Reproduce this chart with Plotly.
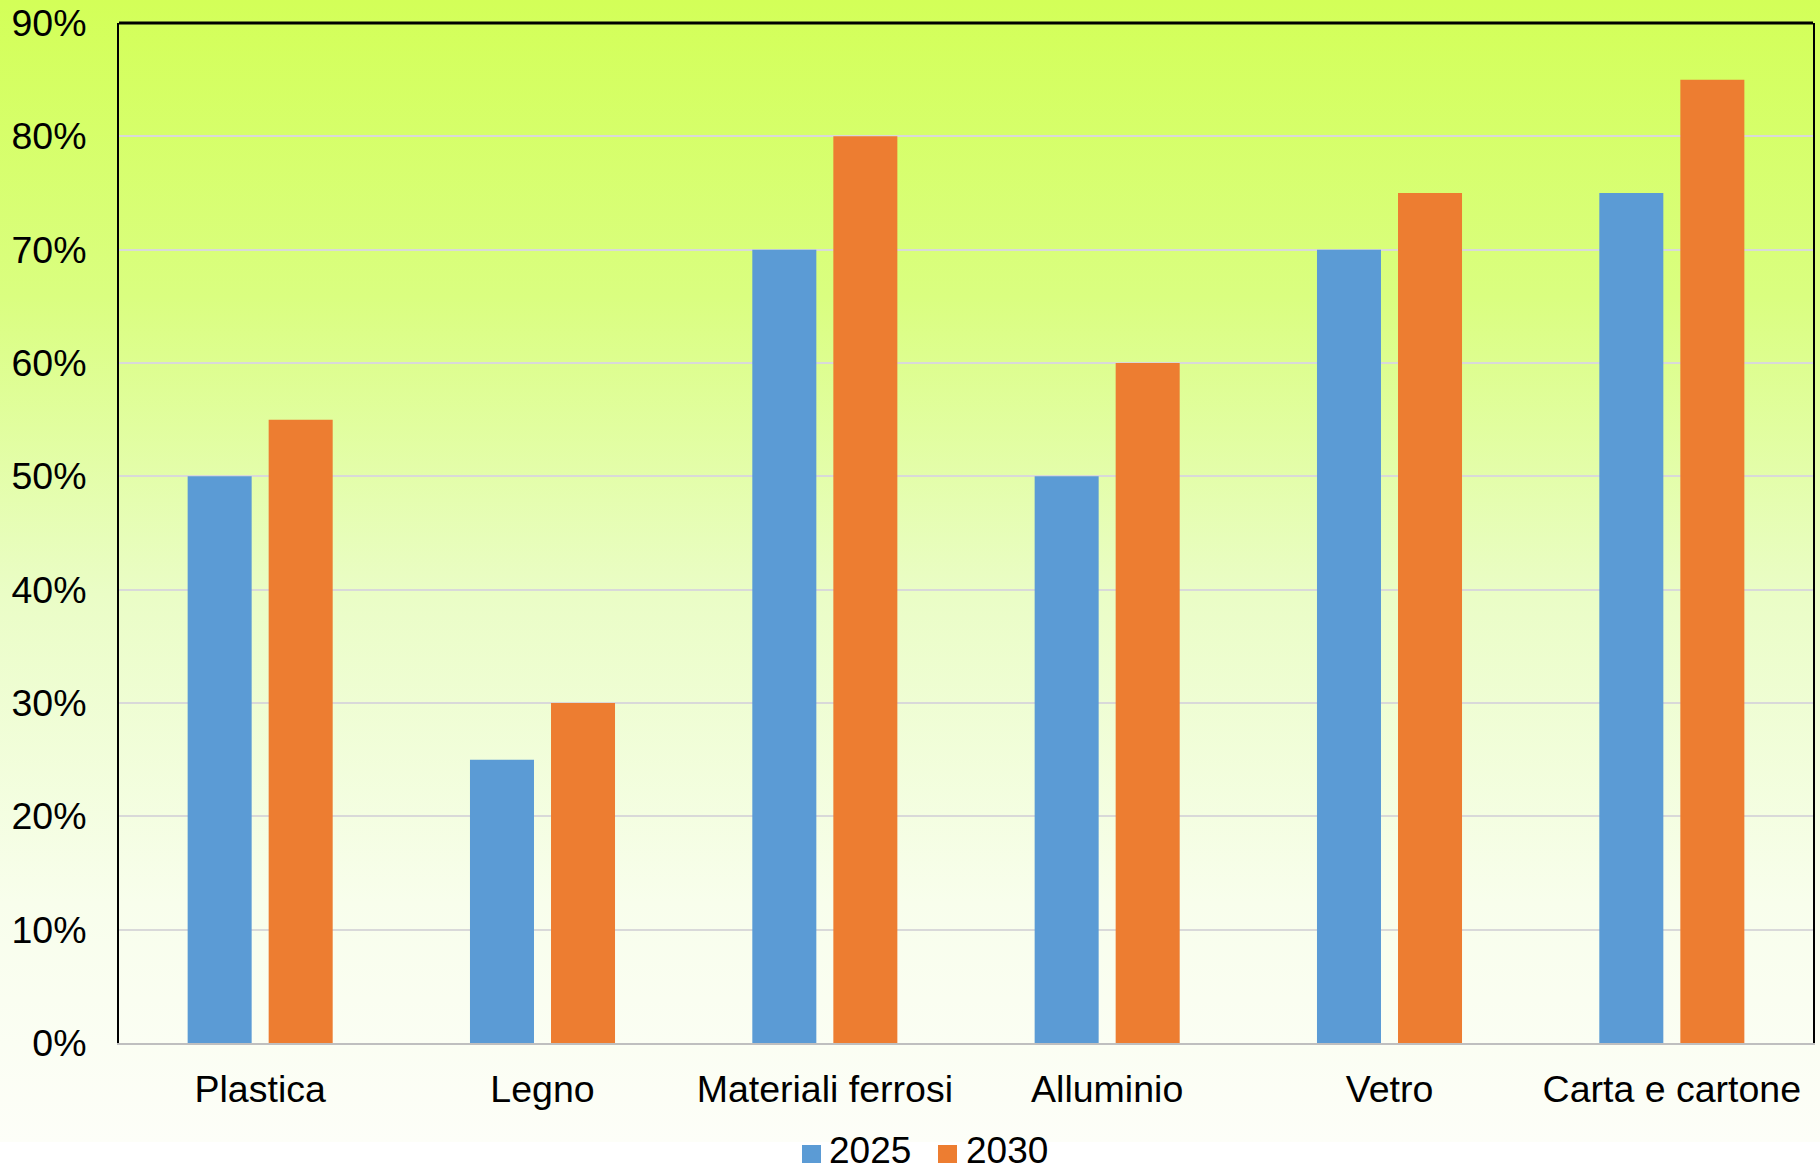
import base64
import plotly.graph_objects as go

# Recycling targets by material, share of packaging waste
categories = ["Plastica", "Legno", "Materiali ferrosi", "Alluminio", "Vetro", "Carta e cartone"]
target_2025 = [0.50, 0.25, 0.70, 0.50, 0.70, 0.75]
target_2030 = [0.55, 0.30, 0.80, 0.60, 0.75, 0.85]
series_names = ["2025", "2030"]
series_colors = ["#5B9BD5", "#ED7D31"]
tick_values = [0, 0.1, 0.2, 0.3, 0.4, 0.5, 0.6, 0.7, 0.8, 0.9]

W, H = 1820, 1171
FONT = "Liberation Sans, Arial, sans-serif"
FS = 37.5

# Vertical background gradient (yellow-green fading to white)
svg = """<svg xmlns='http://www.w3.org/2000/svg' width='100' height='100' preserveAspectRatio='none'>
<defs><linearGradient id='g' x1='0' y1='0' x2='0' y2='1'>
<stop offset='0' stop-color='#D3FF58'/>
<stop offset='0.26' stop-color='#DAFE80'/>
<stop offset='0.52' stop-color='#EAFDC6'/>
<stop offset='0.79' stop-color='#F8FEEC'/>
<stop offset='1' stop-color='#FDFEF8'/>
</linearGradient></defs>
<rect x='0' y='0' width='100' height='100' fill='url(#g)'/></svg>"""
src = "data:image/svg+xml;base64," + base64.b64encode(svg.encode()).decode()

fig = go.Figure()
fig.add_trace(go.Bar(name=series_names[0], x=categories, y=target_2025,
                     marker=dict(color=series_colors[0], line=dict(width=0))))
fig.add_trace(go.Bar(name=series_names[1], x=categories, y=target_2030,
                     marker=dict(color=series_colors[1], line=dict(width=0))))

ml, mr, mt, mb = 119, 7, 23, 128
pw, ph = W - ml - mr, H - mt - mb
grad_bottom = 1142


def px_x(px):
    return (px - ml) / pw


def px_y(py):
    return (H - mb - py) / ph


# Legend drawn as swatches plus labels below the plot
legend_items = [(802, 830), (938, 967)]
shapes = [dict(type="line", xref="paper", yref="paper", x0=0, x1=1, y0=1, y1=1,
               line=dict(color="black", width=3))]
annotations = []
for (sx, tx), name, color in zip(legend_items, series_names, series_colors):
    shapes.append(dict(type="rect", xref="paper", yref="paper",
                       x0=px_x(sx), x1=px_x(sx + 19), y0=px_y(1163), y1=px_y(1145),
                       fillcolor=color, line=dict(width=0)))
    annotations.append(dict(text=name, xref="paper", yref="paper",
                            x=px_x(tx - 2), y=px_y(1150), xanchor="left", yanchor="middle",
                            borderpad=0, showarrow=False,
                            font=dict(size=37, family=FONT, color="black")))

fig.update_layout(
    width=W, height=H,
    margin=dict(l=ml, r=mr, t=mt, b=mb, pad=0, autoexpand=False),
    paper_bgcolor="white",
    plot_bgcolor="rgba(0,0,0,0)",
    barmode="group",
    bargap=0.426,
    bargroupgap=0.21,
    font=dict(family=FONT, size=FS, color="black"),
    showlegend=False,
    xaxis=dict(showgrid=False, showline=True, linecolor="#BFBFBF", linewidth=2,
               ticks="", tickfont=dict(size=FS), ticklabelstandoff=12,
               automargin=False),
    yaxis=dict(range=[0, 0.9], tickvals=tick_values, tickformat=".0%",
               showgrid=True, gridcolor="#D9D9D9", gridwidth=2,
               zeroline=False, showline=True, linecolor="black", linewidth=2,
               mirror=True, ticks="", tickfont=dict(size=FS),
               ticklabelstandoff=23, automargin=False),
    images=[dict(source=src, xref="paper", yref="paper",
                 x=-ml / pw, y=1 + mt / ph,
                 sizex=W / pw, sizey=grad_bottom / ph,
                 xanchor="left", yanchor="top", sizing="stretch",
                 layer="below")],
    shapes=shapes,
    annotations=annotations,
)

fig.write_html("out.html")
